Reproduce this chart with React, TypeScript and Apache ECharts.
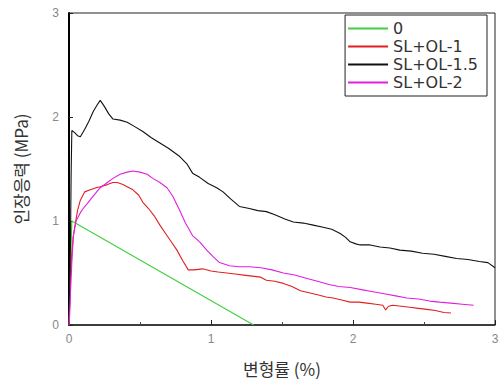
import React, { useEffect, useRef } from "react";
import * as echarts from "echarts";

const seriesNames = ["0", "SL+OL-1", "SL+OL-1.5", "SL+OL-2"];
const seriesColors = ["#3fcf3f", "#e02020", "#111111", "#e020e0"];

const greenX = [0, 0.02, 1.3];
const greenY = [0, 1.0, 0];

const redX = [0, 0.005, 0.01, 0.02, 0.03, 0.04, 0.06, 0.08, 0.11, 0.15, 0.19, 0.22, 0.27, 0.31, 0.34, 0.38, 0.41, 0.45, 0.49, 0.52, 0.56, 0.6, 0.64, 0.68, 0.72, 0.76, 0.8, 0.84, 0.88, 0.94, 1.0, 1.05, 1.11, 1.17, 1.23, 1.29, 1.35, 1.39, 1.45, 1.51, 1.57, 1.63, 1.69, 1.75, 1.81, 1.86, 1.92, 1.98, 2.04, 2.1, 2.16, 2.21, 2.23, 2.25, 2.28, 2.34, 2.4, 2.46, 2.52, 2.58, 2.64, 2.69];
const redY = [0, 0.2, 0.45, 0.69, 0.85, 0.94, 1.1, 1.2, 1.28, 1.3, 1.32, 1.33, 1.35, 1.37, 1.37, 1.35, 1.33, 1.3, 1.25, 1.18, 1.12, 1.05, 0.96, 0.88, 0.8, 0.72, 0.62, 0.53, 0.53, 0.54, 0.52, 0.51, 0.5, 0.49, 0.48, 0.47, 0.46, 0.43, 0.42, 0.4, 0.37, 0.33, 0.31, 0.29, 0.27, 0.26, 0.24, 0.22, 0.22, 0.21, 0.2, 0.19, 0.145, 0.18, 0.19, 0.18, 0.17, 0.16, 0.15, 0.14, 0.12, 0.115];

const blackX = [0, 0.005, 0.01, 0.015, 0.02, 0.04, 0.06, 0.08, 0.11, 0.14, 0.17, 0.2, 0.22, 0.25, 0.28, 0.31, 0.36, 0.41, 0.46, 0.52, 0.58, 0.64, 0.7, 0.78, 0.83, 0.87, 0.92, 0.98, 1.04, 1.085, 1.14, 1.2, 1.27, 1.33, 1.39, 1.45, 1.52, 1.58, 1.65, 1.72, 1.79, 1.85, 1.91, 1.95, 1.98, 2.02, 2.05, 2.12, 2.19, 2.26, 2.33, 2.41, 2.49, 2.57, 2.65, 2.73, 2.81, 2.89, 2.95, 3.0];
const blackY = [0, 0.35, 0.75, 1.45, 1.87, 1.85, 1.82, 1.81, 1.88, 1.96, 2.05, 2.12, 2.16, 2.1, 2.03, 1.98, 1.97, 1.95, 1.91, 1.86, 1.8, 1.75, 1.7, 1.62, 1.55, 1.46, 1.42, 1.36, 1.32, 1.28, 1.21, 1.14, 1.12, 1.1, 1.09, 1.06, 1.02, 0.99, 0.98, 0.96, 0.94, 0.92, 0.88, 0.84, 0.8, 0.78, 0.77, 0.77, 0.75, 0.74, 0.72, 0.71, 0.69, 0.68, 0.66, 0.64, 0.63, 0.61, 0.6, 0.55];

const magentaX = [0, 0.005, 0.01, 0.02, 0.03, 0.05, 0.08, 0.1, 0.13, 0.17, 0.22, 0.27, 0.31, 0.36, 0.41, 0.45, 0.5, 0.55, 0.59, 0.64, 0.69, 0.73, 0.78, 0.82, 0.87, 0.92, 0.97, 1.02, 1.06, 1.13, 1.2, 1.27, 1.35, 1.43, 1.51, 1.59, 1.67, 1.75, 1.83, 1.9, 1.98, 2.06, 2.14, 2.22, 2.3, 2.38, 2.46, 2.54, 2.61, 2.69, 2.77, 2.85];
const magentaY = [0, 0.1, 0.3, 0.6, 0.85, 1.0, 1.08, 1.12, 1.17, 1.24, 1.32, 1.37, 1.41, 1.45, 1.47, 1.48, 1.47, 1.45, 1.41, 1.37, 1.32, 1.24, 1.1, 0.98, 0.86, 0.8, 0.72, 0.65, 0.6, 0.57, 0.56, 0.56, 0.55, 0.53, 0.5, 0.48, 0.45, 0.42, 0.39, 0.37, 0.36, 0.34, 0.32, 0.3, 0.28, 0.26, 0.25, 0.23, 0.22, 0.21, 0.2, 0.19];

const xTicks = [0, 1, 2, 3];
const yTicks = [0, 1, 2, 3];

const zip = (xs: number[], ys: number[]) => xs.map((x, i) => [x, ys[i]]);

export default function App() {
  const ref = useRef<HTMLDivElement>(null);
  useEffect(() => {
    if (!ref.current) return;
    const chart = echarts.init(ref.current, null, { renderer: "svg" });
    const datasets = [zip(greenX, greenY), zip(redX, redY), zip(blackX, blackY), zip(magentaX, magentaY)];
    chart.setOption({
      animation: false,
      backgroundColor: "#ffffff",
      grid: { left: 69, top: 13, right: 5, bottom: 59, show: true, borderColor: "#222", borderWidth: 1, outerBoundsMode: "none", containLabel: false },
      legend: {
        data: seriesNames,
        orient: "vertical",
        right: 13,
        top: 15,
        borderColor: "#222",
        borderWidth: 1,
        padding: [5, 9, 5, 3],
        itemGap: 1,
        itemWidth: 40,
        itemHeight: 2,
        itemTextGap: 5,
        icon: "rect",
        textStyle: { fontFamily: "DejaVu Sans", fontSize: 16, lineHeight: 17, color: "#333" },
      },
      xAxis: {
        type: "value",
        min: xTicks[0],
        max: xTicks[xTicks.length - 1],
        interval: 1,
        name: "변형률 (%)",
        nameLocation: "middle",
        nameGap: 35,
        nameMoveOverlap: false,
        nameTextStyle: { fontFamily: "Noto Sans CJK KR", fontSize: 17, color: "#333", verticalAlign: "top" },
        axisLine: { show: true, onZero: false, lineStyle: { color: "#222", width: 1.5 } },
        axisTick: { show: true, inside: true, length: 5, lineStyle: { color: "#222" } },
        minorTick: { show: true, splitNumber: 2, length: 3, lineStyle: { color: "#444" } },
        axisLabel: { fontFamily: "Liberation Sans", fontSize: 12, color: "#888", margin: 8 },
        splitLine: { show: false },
      },
      yAxis: {
        type: "value",
        min: yTicks[0],
        max: yTicks[yTicks.length - 1],
        interval: 1,
        name: "인장응력 (MPa)",
        nameLocation: "middle",
        nameGap: 40,
        nameMoveOverlap: false,
        nameTextStyle: { fontFamily: "Noto Sans CJK KR", fontSize: 17, color: "#333" },
        axisLine: { show: true, onZero: false, lineStyle: { color: "#000", width: 2 } },
        axisTick: { show: true, inside: true, length: 4, lineStyle: { color: "#222" } },
        axisLabel: { fontFamily: "Liberation Sans", fontSize: 12, color: "#888", margin: 10 },
        splitLine: { show: false },
      },
      series: seriesNames.map((name, i) => ({
        name,
        type: "line",
        data: datasets[i],
        symbol: "none",
        lineStyle: { color: seriesColors[i], width: 1.1 },
        itemStyle: { color: seriesColors[i] },
      })),
    });
    return () => chart.dispose();
  }, []);
  return <div ref={ref} style={{ width: 500, height: 384, position: "absolute", left: 0, top: 0 }} />;
}
